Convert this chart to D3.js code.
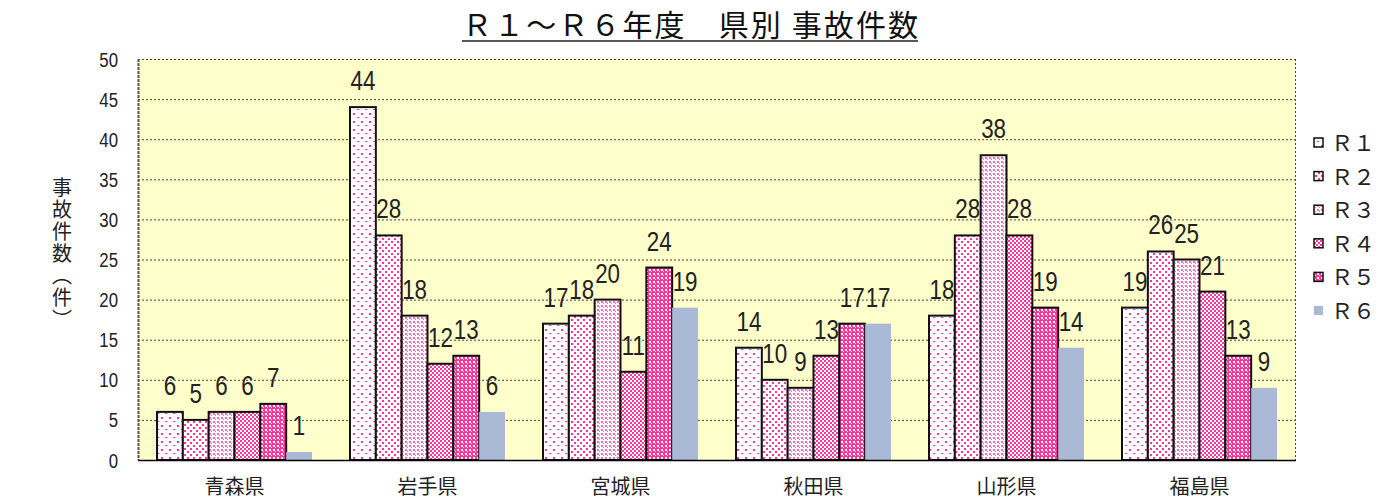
<!DOCTYPE html>
<html>
<head>
<meta charset="utf-8">
<script src="https://cdn.jsdelivr.net/npm/d3@7"></script>
<style>
  body { margin: 0; background: #fff; }
  text { font-family: "Liberation Sans", sans-serif; fill: #222; }
  .jp { font-family: "Noto Sans CJK JP", sans-serif; }
</style>
</head>
<body>
<script>
// 県別 事故件数 R1〜R6
var prefectures = ["青森県", "岩手県", "宮城県", "秋田県", "山形県", "福島県"];
var years = ["Ｒ１", "Ｒ２", "Ｒ３", "Ｒ４", "Ｒ５", "Ｒ６"];
var r1 = [6, 44, 17, 14, 18, 19];
var r2 = [5, 28, 18, 10, 28, 26];
var r3 = [6, 18, 20, 9, 38, 25];
var r4 = [6, 12, 11, 13, 28, 21];
var r5 = [7, 13, 24, 17, 19, 13];
var r6 = [1, 6, 19, 17, 14, 9];
var yTicks = [0, 5, 10, 15, 20, 25, 30, 35, 40, 45, 50];

var all = [r1, r2, r3, r4, r5, r6];

var width = 1389;
var height = 499;
var margin = {top: 59, right: 93, bottom: 39, left: 138};
var narrow = 0.8; // squeeze digits, no narrow font installed

var svg = d3.select("body")
  .append("svg")
  .attr("width", width)
  .attr("height", height);

var pink = "#ff3399";
var defs = svg.append("defs");

// fill patterns, one per year
function pat(id, size, bg, dots, col) {
  var p = defs.append("pattern")
    .attr("id", id)
    .attr("patternUnits", "userSpaceOnUse")
    .attr("width", size)
    .attr("height", size);
  p.append("rect").attr("width", size).attr("height", size).attr("fill", bg);
  dots.forEach(function(d) {
    p.append("rect").attr("x", d[0]).attr("y", d[1])
      .attr("width", d[2] || 2).attr("height", d[3] || 2).attr("fill", col);
  });
}
pat("p0", 8, "#fff", [[1, 1], [5, 5, 2, 1]], pink);
pat("p1", 6, "#fff", [[1, 1], [4, 4]], pink);
pat("p2", 4, "#fff", [[1, 1], [3, 3, 1, 1]], "#ff66b3");
pat("p3", 4, "#fff", [[0, 0], [2, 2]], pink);
pat("p4", 4, pink, [[1, 1], [3, 3, 1, 1]], "#fff");

var fills = ["url(#p0)", "url(#p1)", "url(#p2)", "url(#p3)", "url(#p4)", "#aab9d6"];

var x0 = d3.scaleBand()
  .domain(prefectures)
  .range([margin.left, width - margin.right]);

var x1 = d3.scaleBand()
  .domain(years)
  .range([19, x0.bandwidth() - 19]);

var y = d3.scaleLinear()
  .domain([0, 50])
  .range([height - margin.bottom, margin.top]);

// plot background
svg.append("rect")
  .attr("x", margin.left)
  .attr("y", margin.top)
  .attr("width", width - margin.left - margin.right)
  .attr("height", y(0) - margin.top)
  .attr("fill", "#ffffcc");

// grid
svg.append("g")
  .selectAll("line")
  .data(yTicks.filter(function(t) { return t > 0; }))
  .enter().append("line")
  .attr("x1", margin.left)
  .attr("x2", width - margin.right)
  .attr("y1", function(d) { return y(d) + 0.5; })
  .attr("y2", function(d) { return y(d) + 0.5; })
  .attr("stroke", "#444")
  .attr("stroke-dasharray", "2,2");

svg.append("line")
  .attr("x1", width - margin.right - 0.5).attr("x2", width - margin.right - 0.5)
  .attr("y1", margin.top).attr("y2", y(0))
  .attr("stroke", "#444").attr("stroke-dasharray", "2,2");

svg.append("line")
  .attr("x1", margin.left + 0.5).attr("x2", margin.left + 0.5)
  .attr("y1", margin.top).attr("y2", y(0))
  .attr("stroke", "#555").attr("stroke-width", 2).attr("stroke-dasharray", "3,1");

// bars
all.forEach(function(series, i) {
  var g = svg.append("g");
  g.selectAll("rect")
    .data(series)
    .enter().append("rect")
    .attr("x", function(d, j) { return x0(prefectures[j]) + x1(years[i]); })
    .attr("y", function(d) { return y(d); })
    .attr("width", x1.bandwidth())
    .attr("height", function(d) { return y(0) - y(d); })
    .attr("fill", fills[i])
    .attr("stroke", i < 5 ? "#111" : "none")
    .attr("stroke-width", 2);

  g.selectAll("text")
    .data(series)
    .enter().append("text")
    .attr("transform", function(d, j) {
      var cx = x0(prefectures[j]) + x1(years[i]) + x1.bandwidth() / 2;
      return "translate(" + cx + "," + (y(d) - 17) + ") scale(" + narrow + ",1)";
    })
    .attr("text-anchor", "middle")
    .style("font-size", "28px")
    .text(function(d) { return d; });
});

// bottom axis line
svg.append("line")
  .attr("x1", margin.left).attr("x2", width - margin.right)
  .attr("y1", y(0) + 0.5).attr("y2", y(0) + 0.5)
  .attr("stroke", "#000").attr("stroke-width", 1.5);

// y tick labels
svg.append("g")
  .selectAll("text")
  .data(yTicks)
  .enter().append("text")
  .attr("transform", function(d) { return "translate(118," + y(d) + ") scale(" + narrow + ",1)"; })
  .attr("dy", "0.36em")
  .attr("text-anchor", "end")
  .style("font-size", "21px")
  .text(function(d) { return d; });

// category labels
svg.append("g")
  .selectAll("text")
  .data(prefectures)
  .enter().append("text")
  .attr("class", "jp")
  .attr("x", function(d) { return x0(d) + x0.bandwidth() / 2; })
  .attr("y", 494)
  .attr("text-anchor", "middle")
  .style("font-size", "20px")
  .text(function(d) { return d; });

// y axis title
svg.append("text")
  .attr("class", "jp")
  .attr("x", 62)
  .attr("y", 177)
  .style("writing-mode", "vertical-rl")
  .style("font-size", "20px")
  .style("letter-spacing", "2px")
  .text("事故件数（件）");

// title
svg.append("text")
  .attr("class", "jp")
  .attr("x", 462)
  .attr("y", 36)
  .attr("textLength", 456)
  .attr("lengthAdjust", "spacing")
  .style("font-size", "30px")
  .style("fill", "#111")
  .text("Ｒ１～Ｒ６年度　県別 事故件数");

svg.append("line")
  .attr("x1", 462).attr("x2", 918)
  .attr("y1", 41).attr("y2", 41)
  .attr("stroke", "#222").attr("stroke-width", 1.5);

// legend
var leg = svg.append("g");
years.forEach(function(yr, i) {
  var ly = 143 + i * 33.6;
  leg.append("rect")
    .attr("x", 1314)
    .attr("y", ly - 5)
    .attr("width", 9)
    .attr("height", 9)
    .attr("fill", fills[i])
    .attr("stroke", i < 5 ? "#111" : "none")
    .attr("stroke-width", 1.5);
  leg.append("text")
    .attr("class", "jp")
    .attr("x", 1331)
    .attr("y", ly)
    .attr("dy", "0.36em")
    .style("font-size", "22px")
    .text(yr);
});
</script>
</body>
</html>
